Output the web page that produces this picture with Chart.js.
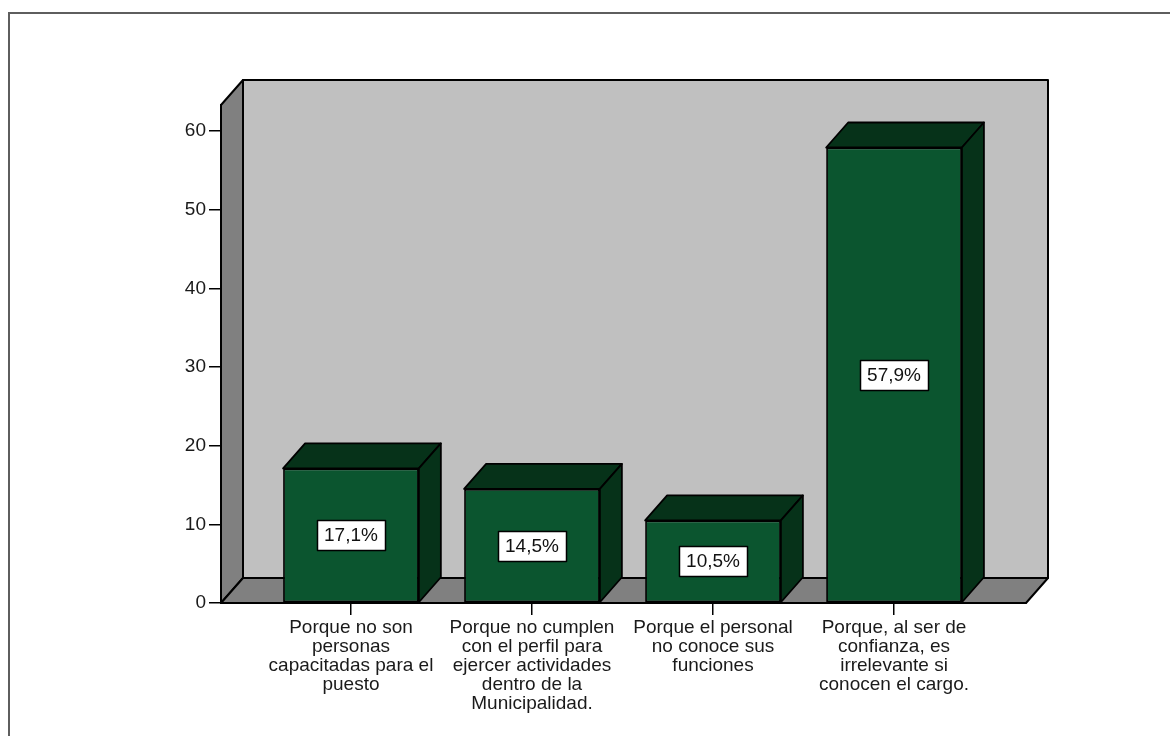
<!DOCTYPE html>
<html>
<head>
<meta charset="utf-8">
<script src="https://cdn.jsdelivr.net/npm/chart.js@4.4.1/dist/chart.umd.min.js"></script>
<style>
  html, body { margin: 0; padding: 0; background: #fff; overflow: hidden; }
  #wrap { position: relative; width: 1170px; height: 736px; }
  #frame { position: absolute; left: 8px; top: 12px; width: 1250px; height: 800px; border: 2px solid #5e5e5e; box-sizing: border-box; }
  canvas { position: absolute; left: 0; top: 0; }
</style>
</head>
<body>
<div id="wrap">
  <div id="frame"></div>
  <canvas id="c" width="1170" height="736"></canvas>
</div>
<script>
const categories = [
  ["Porque no son", "personas", "capacitadas para el", "puesto"],
  ["Porque no cumplen", "con el perfil para", "ejercer actividades", "dentro de la", "Municipalidad."],
  ["Porque el personal", "no conoce sus", "funciones"],
  ["Porque, al ser de", "confianza, es", "irrelevante si", "conocen el cargo."]
];
const percentValues = [17.1, 14.5, 10.5, 57.9];
const yTickValues = [0, 10, 20, 30, 40, 50, 60];

const DX = 22, DY = -25;
const FRONT = '#0b552f', DARK = '#063219';
const FONT = { family: '"Liberation Sans", Arial, sans-serif', size: 19 };

const walls3d = {
  id: 'walls3d',
  beforeDraw(chart) {
    const ctx = chart.ctx, a = chart.chartArea;
    ctx.save();
    ctx.lineWidth = 2;
    ctx.strokeStyle = '#000';
    ctx.lineJoin = 'round';
    ctx.fillStyle = '#c0c0c0';
    ctx.beginPath();
    ctx.rect(a.left + DX, a.top + DY, a.right - a.left, a.bottom - a.top);
    ctx.fill(); ctx.stroke();
    ctx.fillStyle = '#808080';
    ctx.beginPath();
    ctx.moveTo(a.left, a.top);
    ctx.lineTo(a.left + DX, a.top + DY);
    ctx.lineTo(a.left + DX, a.bottom + DY);
    ctx.lineTo(a.left, a.bottom);
    ctx.closePath(); ctx.fill(); ctx.stroke();
    ctx.beginPath();
    ctx.moveTo(a.left, a.bottom);
    ctx.lineTo(a.left + DX, a.bottom + DY);
    ctx.lineTo(a.right + DX, a.bottom + DY);
    ctx.lineTo(a.right, a.bottom);
    ctx.closePath(); ctx.fill(); ctx.stroke();
    ctx.restore();
  },
  afterDatasetsDraw(chart) {
    const ctx = chart.ctx;
    const meta = chart.getDatasetMeta(0);
    ctx.save();
    ctx.strokeStyle = '#000';
    ctx.lineJoin = 'round';
    meta.data.forEach((bar, i) => {
      const p = bar.getProps(['x', 'y', 'base', 'width'], true);
      const l = p.x - p.width / 2, r = p.x + p.width / 2, t = p.y, b = p.base;
      ctx.lineWidth = 1.8;
      ctx.fillStyle = DARK;
      ctx.beginPath();
      ctx.moveTo(l, t); ctx.lineTo(l + DX, t + DY); ctx.lineTo(r + DX, t + DY); ctx.lineTo(r, t);
      ctx.closePath(); ctx.fill(); ctx.stroke();
      ctx.beginPath();
      ctx.moveTo(r, t); ctx.lineTo(r + DX, t + DY); ctx.lineTo(r + DX, b + DY); ctx.lineTo(r, b);
      ctx.closePath(); ctx.fill(); ctx.stroke();
      const txt = percentValues[i].toFixed(1).replace('.', ',') + '%';
      ctx.font = FONT.size + 'px ' + FONT.family;
      const w = Math.round(ctx.measureText(txt).width + 14), h = 30;
      const cy = Math.round((t + b) / 2);
      const bx = Math.round(p.x - w / 2), by = Math.round(cy - h / 2);
      ctx.fillStyle = '#fff';
      ctx.fillRect(bx, by, w, h);
      ctx.lineWidth = 1.5;
      ctx.strokeRect(bx + 0.5, by + 0.5, w, h);
      ctx.fillStyle = '#111';
      ctx.textAlign = 'center';
      ctx.textBaseline = 'middle';
      ctx.fillText(txt, p.x, cy + 1);
    });
    ctx.restore();
  }
};

new Chart(document.getElementById('c'), {
  type: 'bar',
  data: {
    datasets: [{
      data: percentValues.map((v, i) => ({ x: i, y: v })),
      backgroundColor: FRONT,
      borderColor: '#000',
      borderWidth: 1.8,
      borderSkipped: false,
      barPercentage: 0.75,
      categoryPercentage: 1
    }]
  },
  options: {
    responsive: false,
    animation: false,
    events: [],
    layout: { padding: { left: 0, right: 144, top: 105, bottom: 0 } },
    plugins: { legend: { display: false }, tooltip: { enabled: false } },
    scales: {
      x: {
        type: 'linear',
        min: -0.718,
        max: 3.729,
        offset: false,
        afterBuildTicks(scale) {
          scale.ticks = categories.map((c, i) => ({ value: i }));
        },
        afterFit(scale) { scale.height = 133; },
        grid: { offset: false, drawOnChartArea: false, drawTicks: true, tickLength: 12, color: '#000', lineWidth: 1.5 },
        border: { display: true, color: '#000', width: 2 },
        ticks: {
          autoSkip: false,
          maxRotation: 0,
          minRotation: 0,
          padding: 3,
          color: '#1a1a1a',
          font: { family: FONT.family, size: FONT.size, lineHeight: '19px' },
          callback(v) { return Number.isInteger(v) ? categories[v] : ''; }
        }
      },
      y: {
        min: 0,
        max: 63.3,
        afterBuildTicks(scale) {
          scale.ticks = yTickValues.map(v => ({ value: v }));
        },
        afterFit(scale) { scale.width = 221; },
        grid: { drawOnChartArea: false, drawTicks: true, tickLength: 12, color: '#000', lineWidth: 1.5 },
        border: { display: true, color: '#000', width: 2 },
        ticks: {
          padding: 3,
          color: '#1a1a1a',
          font: { family: FONT.family, size: FONT.size }
        }
      }
    }
  },
  plugins: [walls3d]
});
</script>
</body>
</html>
